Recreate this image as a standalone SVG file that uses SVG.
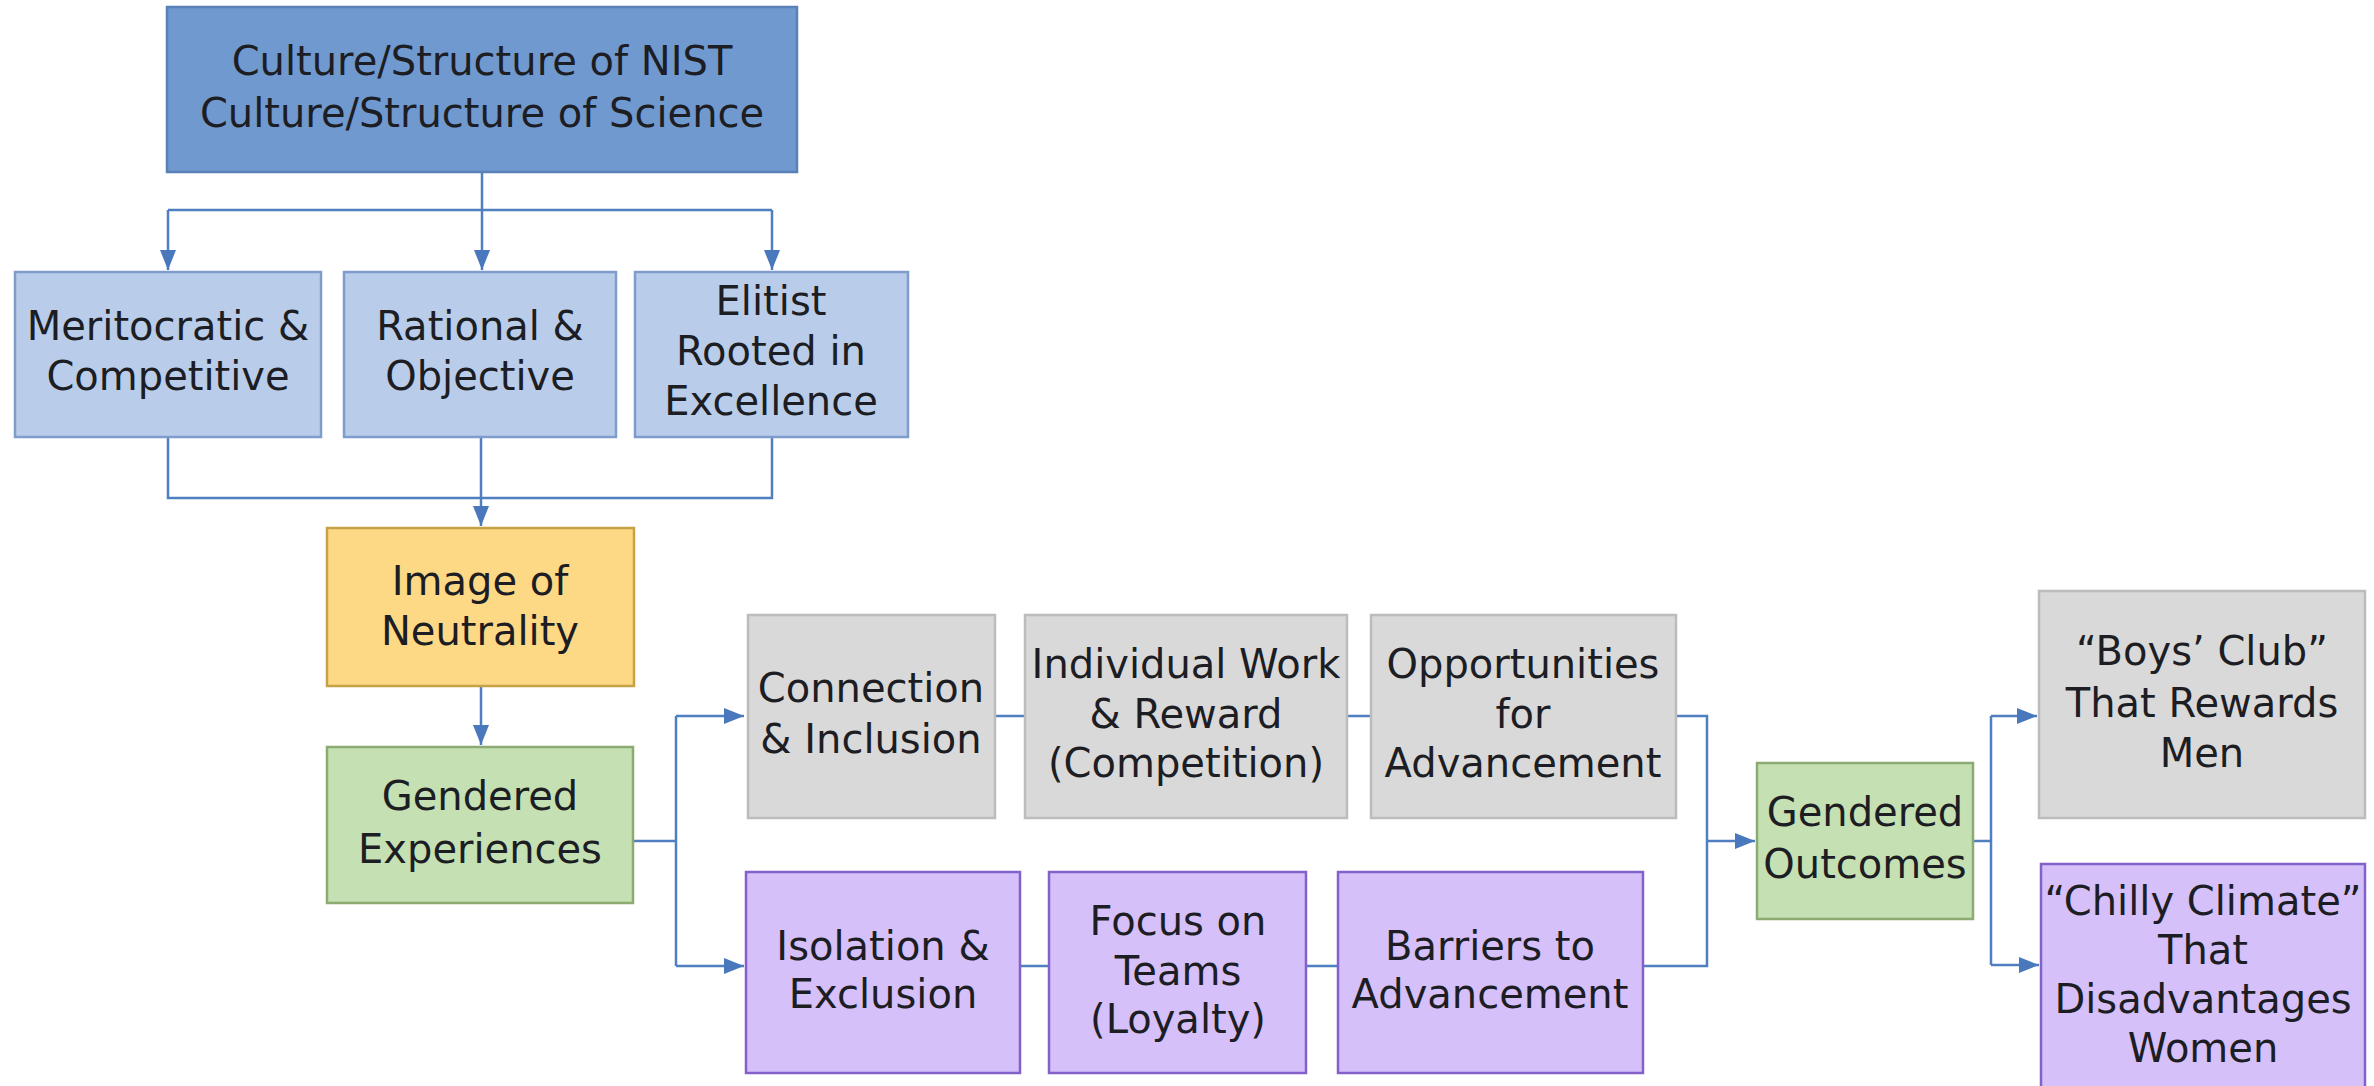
<svg xmlns="http://www.w3.org/2000/svg" width="2374" height="1086" viewBox="0 0 2374 1086">
<defs>
<style>
.t{font-family:"DejaVu Sans","Liberation Sans",sans-serif;font-size:40px;fill:#1d1d24;text-anchor:middle}
.blue{fill:#7099cf;stroke:#5a80b8;stroke-width:2.5}
.lblue{fill:#b9cdea;stroke:#7f9dcc;stroke-width:2.5}
.yel{fill:#fed985;stroke:#c6a247;stroke-width:2.5}
.grn{fill:#c5e0b3;stroke:#8cab72;stroke-width:2.5}
.gry{fill:#d9d9d9;stroke:#bcbcbc;stroke-width:2.5}
.pur{fill:#d5c0fa;stroke:#8460c9;stroke-width:2.5}
.c{fill:none;stroke:#4f7fc0;stroke-width:2.5}
</style>
<marker id="ah" markerUnits="userSpaceOnUse" markerWidth="22" markerHeight="18" refX="20" refY="8" orient="auto">
<path d="M0,0 L20,8 L0,16 z" fill="#4a78bd"/>
</marker>
</defs>
<rect width="2374" height="1086" fill="#ffffff"/>
<g id="connectors">
<path class="c" d="M482,172 V270" marker-end="url(#ah)"/>
<path class="c" d="M168,210 H772"/>
<path class="c" d="M168,210 V270" marker-end="url(#ah)"/>
<path class="c" d="M772,210 V270" marker-end="url(#ah)"/>
<path class="c" d="M168,437 V498 H772 V437"/>
<path class="c" d="M481,437 V526" marker-end="url(#ah)"/>
<path class="c" d="M481,686 V745" marker-end="url(#ah)"/>
<path class="c" d="M633,841 H676"/>
<path class="c" d="M676,716 V966"/>
<path class="c" d="M676,716 H744" marker-end="url(#ah)"/>
<path class="c" d="M676,966 H744" marker-end="url(#ah)"/>
<path class="c" d="M995,716 H1025 M1347,716 H1371"/>
<path class="c" d="M1020,966 H1049 M1306,966 H1338"/>
<path class="c" d="M1676,716 H1707 V966 H1643"/>
<path class="c" d="M1707,841 H1755" marker-end="url(#ah)"/>
<path class="c" d="M1973,841 H1991"/>
<path class="c" d="M1991,716 V965"/>
<path class="c" d="M1991,716 H2037" marker-end="url(#ah)"/>
<path class="c" d="M1991,965 H2039" marker-end="url(#ah)"/>
</g>
<g id="n-culture"><rect class="blue" x="167" y="7" width="630" height="165"/>
<text class="t" x="482" y="75">Culture/Structure of NIST</text><text class="t" x="482" y="127">Culture/Structure of Science</text></g>
<g id="n-meritocratic"><rect class="lblue" x="15" y="272" width="306" height="165"/>
<text class="t" x="168" y="340">Meritocratic &amp;</text><text class="t" x="168" y="390">Competitive</text></g>
<g id="n-rational"><rect class="lblue" x="344" y="272" width="272" height="165"/>
<text class="t" x="480" y="340">Rational &amp;</text><text class="t" x="480" y="390">Objective</text></g>
<g id="n-elitist"><rect class="lblue" x="635" y="272" width="273" height="165"/>
<text class="t" x="771" y="315">Elitist</text><text class="t" x="771" y="365">Rooted in</text><text class="t" x="771" y="415">Excellence</text></g>
<g id="n-neutrality"><rect class="yel" x="327" y="528" width="307" height="158"/>
<text class="t" x="480" y="595">Image of</text><text class="t" x="480" y="645">Neutrality</text></g>
<g id="n-gendered-exp"><rect class="grn" x="327" y="747" width="306" height="156"/>
<text class="t" x="480" y="810">Gendered</text><text class="t" x="480" y="863">Experiences</text></g>
<g id="n-connection"><rect class="gry" x="748" y="615" width="247" height="203"/>
<text class="t" x="871" y="702">Connection</text><text class="t" x="871" y="753">&amp; Inclusion</text></g>
<g id="n-individual"><rect class="gry" x="1025" y="615" width="322" height="203"/>
<text class="t" x="1186" y="678">Individual Work</text><text class="t" x="1186" y="728">&amp; Reward</text><text class="t" x="1186" y="777">(Competition)</text></g>
<g id="n-opportunities"><rect class="gry" x="1371" y="615" width="305" height="203"/>
<text class="t" x="1523" y="678">Opportunities</text><text class="t" x="1523" y="728">for</text><text class="t" x="1523" y="777">Advancement</text></g>
<g id="n-isolation"><rect class="pur" x="746" y="872" width="274" height="201"/>
<text class="t" x="883" y="960">Isolation &amp;</text><text class="t" x="883" y="1008">Exclusion</text></g>
<g id="n-focus"><rect class="pur" x="1049" y="872" width="257" height="201"/>
<text class="t" x="1178" y="935">Focus on</text><text class="t" x="1178" y="985">Teams</text><text class="t" x="1178" y="1033">(Loyalty)</text></g>
<g id="n-barriers"><rect class="pur" x="1338" y="872" width="305" height="201"/>
<text class="t" x="1490" y="960">Barriers to</text><text class="t" x="1490" y="1008">Advancement</text></g>
<g id="n-gendered-out"><rect class="grn" x="1757" y="763" width="216" height="156"/>
<text class="t" x="1865" y="826">Gendered</text><text class="t" x="1865" y="878">Outcomes</text></g>
<g id="n-boys-club"><rect class="gry" x="2039" y="591" width="326" height="227"/>
<text class="t" x="2202" y="665">“Boys’ Club”</text><text class="t" x="2202" y="717">That Rewards</text><text class="t" x="2202" y="767">Men</text></g>
<g id="n-chilly"><rect class="pur" x="2041" y="864" width="324" height="230"/>
<text class="t" x="2203" y="915">“Chilly Climate”</text><text class="t" x="2203" y="964">That</text><text class="t" x="2203" y="1013">Disadvantages</text><text class="t" x="2203" y="1062">Women</text></g>
</svg>
